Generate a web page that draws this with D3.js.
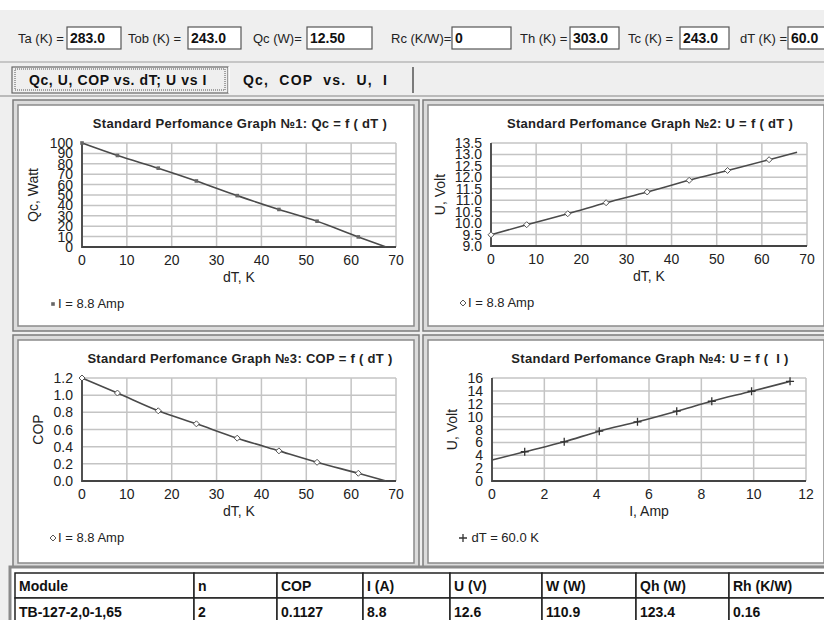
<!DOCTYPE html>
<html>
<head>
<meta charset="utf-8">
<script src="https://cdn.jsdelivr.net/npm/d3@7"></script>
<style>
body { margin:0; background:#fff; }
svg { display:block; font-family:"Liberation Sans", Arial, sans-serif; }
</style>
</head>
<body>
<svg id="chart" width="824" height="620"></svg>
<script>
// values
var dT = [0, 7.9, 17.0, 25.5, 34.6, 43.9, 52.4, 61.6, 67.8];
var qc = [100, 88, 75.8, 63.5, 49.4, 36.1, 24.8, 9.7, 0];
var uVsDT = [9.49, 9.93, 10.41, 10.89, 11.36, 11.87, 12.30, 12.77, 13.10];
var cop = [1.2, 1.025, 0.818, 0.666, 0.499, 0.351, 0.218, 0.090, 0];
var amps = [0, 1.25, 2.76, 4.1, 5.56, 7.06, 8.4, 9.92, 11.39];
var uVsI = [3.25, 4.54, 6.09, 7.74, 9.19, 10.84, 12.39, 13.94, 15.48];

var dTTicks = [0, 10, 20, 30, 40, 50, 60, 70];
var ampTicks = [0, 2, 4, 6, 8, 10, 12];
var qcTicks = [0, 10, 20, 30, 40, 50, 60, 70, 80, 90, 100];
var voltTicks = [9.0, 9.5, 10.0, 10.5, 11.0, 11.5, 12.0, 12.5, 13.0, 13.5];
var copTicks = [0.0, 0.2, 0.4, 0.6, 0.8, 1.0, 1.2];
var voltTicks2 = [0, 2, 4, 6, 8, 10, 12, 14, 16];

var paramLabels = ["Ta (K) =", "Tob (K) =", "Qc (W)=", "Rc (K/W)=", "Th (K) =", "Tc (K) =", "dT (K) ="];
var paramValues = ["283.0", "243.0", "12.50", "0", "303.0", "243.0", "60.0"];
var tabNames = ["Qc, U, COP vs. dT; U vs I", "Qc,  COP  vs.  U,  I"];
var tableHead = ["Module", "n", "COP", "I (A)", "U (V)", "W (W)", "Qh (W)", "Rh (K/W)"];
var tableRow = ["TB-127-2,0-1,65", "2", "0.1127", "8.8", "12.6", "110.9", "123.4", "0.16"];

var svg = d3.select("#chart");

// window background
svg.append("rect").attr("width", 824).attr("height", 620).attr("fill", "#ffffff");
svg.append("rect").attr("y", 10).attr("width", 824).attr("height", 610).attr("fill", "#efefef");

// parameter row
var labX = [18, 128, 253, 391, 520, 628, 740];
var boxX = [67, 188, 307, 452, 570, 680, 788];
var boxW = [54, 53, 65, 59, 49, 49, 40];
paramLabels.forEach(function(t, i) {
    svg.append("text").attr("x", labX[i]).attr("y", 43)
        .attr("font-size", 13).attr("fill", "#222").text(t);
    svg.append("rect").attr("x", boxX[i]).attr("y", 27).attr("width", boxW[i]).attr("height", 22)
        .attr("fill", "#fff").attr("stroke", "#555").attr("stroke-width", 1.2);
    svg.append("text").attr("x", boxX[i] + 3).attr("y", 43)
        .attr("font-size", 14).attr("font-weight", "bold").attr("fill", "#111").text(paramValues[i]);
});
svg.append("line").attr("x1", 0).attr("x2", 824).attr("y1", 62).attr("y2", 62)
    .attr("stroke", "#b8b8b8").attr("stroke-width", 1.5);

// tabs
svg.append("rect").attr("x", 12).attr("y", 67).attr("width", 216).attr("height", 26)
    .attr("fill", "#efefef").attr("stroke", "#666").attr("stroke-width", 1.2);
svg.append("rect").attr("x", 15).attr("y", 69).attr("width", 210).attr("height", 21)
    .attr("fill", "none").attr("stroke", "#555").attr("stroke-dasharray", "1,1");
svg.append("text").attr("x", 118).attr("y", 85).attr("text-anchor", "middle").attr("letter-spacing", 0.6)
    .attr("font-size", 14).attr("font-weight", "bold").attr("fill", "#111").text(tabNames[0]);
svg.append("line").attr("x1", 413).attr("x2", 413).attr("y1", 67).attr("y2", 93)
    .attr("stroke", "#555").attr("stroke-width", 1.5);
svg.append("line").attr("x1", 229).attr("x2", 229).attr("y1", 67).attr("y2", 93)
    .attr("stroke", "#fff").attr("stroke-width", 1.5);
svg.append("text").attr("x", 243).attr("y", 85).style("white-space", "pre").attr("letter-spacing", 1.2)
    .attr("font-size", 14).attr("font-weight", "bold").attr("fill", "#111").text(tabNames[1]);
svg.append("line").attr("x1", 0).attr("x2", 824).attr("y1", 96).attr("y2", 96)
    .attr("stroke", "#a8a8a8").attr("stroke-width", 1.5);

var charts = [
    {panel:[13,100,406,231], left:82, right:396, top:143, bottom:247, xs:dT, ys:qc, xDom:[0,70], yDom:[0,100],
     xTicks:dTTicks, yTicks:qcTicks, yFmt:d3.format("d"), title:"Standard Perfomance Graph №1: Qc = f ( dT )",
     xLabel:"dT, K", yLabel:"Qc, Watt", ylx:33, legend:"I = 8.8 Amp", marker:"dot", markEnd:false},
    {panel:[423,100,406,231], left:491, right:807, top:143, bottom:246, xs:dT, ys:uVsDT, xDom:[0,70], yDom:[9,13.5],
     xTicks:dTTicks, yTicks:voltTicks, yFmt:d3.format(".1f"), title:"Standard Perfomance Graph №2: U = f ( dT )",
     xLabel:"dT, K", yLabel:"U, Volt", ylx:440, legend:"I = 8.8 Amp", marker:"diamond", markEnd:false},
    {panel:[13,335,406,233], left:82, right:396, top:378, bottom:481, xs:dT, ys:cop, xDom:[0,70], yDom:[0,1.2],
     xTicks:dTTicks, yTicks:copTicks, yFmt:d3.format(".1f"), title:"Standard Perfomance Graph №3: COP = f ( dT )",
     xLabel:"dT, K", yLabel:"COP", ylx:38, legend:"I = 8.8 Amp", marker:"diamond", markEnd:false},
    {panel:[423,335,406,233], left:492, right:806, top:378, bottom:481, xs:amps, ys:uVsI, xDom:[0,12], yDom:[0,16],
     xTicks:ampTicks, yTicks:voltTicks2, yFmt:d3.format("d"), title:"Standard Perfomance Graph №4: U = f (  I )",
     xLabel:"I, Amp", yLabel:"U, Volt", ylx:452, legend:" dT = 60.0 K", marker:"plus", markEnd:true}
];

function drawMarker(g, type, x, y) {
    if (type == "dot") {
        g.append("rect").attr("x", x - 1.8).attr("y", y - 1.8).attr("width", 3.6).attr("height", 3.6).attr("fill", "#666");
    } else if (type == "diamond") {
        g.append("path").attr("d", "M" + x + "," + (y - 3) + "L" + (x + 3) + "," + y + "L" + x + "," + (y + 3) + "L" + (x - 3) + "," + y + "Z")
            .attr("fill", "#fff").attr("stroke", "#555").attr("stroke-width", 1);
    } else {
        g.append("path").attr("d", "M" + (x - 4) + "," + y + "H" + (x + 4) + "M" + x + "," + (y - 4) + "V" + (y + 4))
            .attr("stroke", "#333").attr("stroke-width", 1.3);
    }
}

charts.forEach(function(c) {
    var p = c.panel;
    var g = svg.append("g");
    // sunken frame
    g.append("rect").attr("x", p[0]).attr("y", p[1]).attr("width", p[2]).attr("height", p[3])
        .attr("fill", "#dcdcdc").attr("stroke", "#7c7c7c").attr("stroke-width", 1.5);
    g.append("rect").attr("x", p[0] + 5).attr("y", p[1] + 5).attr("width", p[2] - 10).attr("height", p[3] - 10)
        .attr("fill", "#fff").attr("stroke", "#8a8a8a").attr("stroke-width", 1.5);

    var x = d3.scaleLinear().domain(c.xDom).range([c.left, c.right]);
    var y = d3.scaleLinear().domain(c.yDom).range([c.bottom, c.top]);

    g.append("text").attr("x", (c.left + c.right) / 2 + 1).attr("y", c.top - 15).attr("text-anchor", "middle")
        .attr("font-size", 13).attr("letter-spacing", 0.3).attr("font-weight", "bold").attr("fill", "#222")
        .style("white-space", "pre").text(c.title);

    // grid
    g.selectAll(".vg").data(c.xTicks).enter().append("line")
        .attr("x1", function(d) { return x(d); }).attr("x2", function(d) { return x(d); })
        .attr("y1", c.top).attr("y2", c.bottom).attr("stroke", "#c4c4c4").attr("stroke-width", 1.5);
    g.selectAll(".hg").data(c.yTicks).enter().append("line")
        .attr("x1", c.left).attr("x2", c.right)
        .attr("y1", function(d) { return y(d); }).attr("y2", function(d) { return y(d); })
        .attr("stroke", "#c4c4c4").attr("stroke-width", 1.5);
    // axes
    g.append("path").attr("d", "M" + c.left + "," + c.top + "V" + c.bottom + "H" + c.right)
        .attr("fill", "none").attr("stroke", "#444").attr("stroke-width", 1.8);

    g.selectAll(".xt").data(c.xTicks).enter().append("text")
        .attr("x", function(d) { return x(d); }).attr("y", c.bottom + 18).attr("text-anchor", "middle")
        .attr("font-size", 14).attr("fill", "#222").text(function(d) { return d; });
    g.selectAll(".yt").data(c.yTicks).enter().append("text")
        .attr("x", c.left - 9).attr("y", function(d) { return y(d) + 5; }).attr("text-anchor", "end")
        .attr("font-size", 14).attr("fill", "#222").text(c.yFmt);

    g.append("text").attr("x", (c.left + c.right) / 2).attr("y", c.bottom + 35).attr("text-anchor", "middle")
        .attr("font-size", 14).attr("fill", "#222").text(c.xLabel);
    g.append("text").attr("transform", "translate(" + (c.ylx + 5) + "," + ((c.top + c.bottom) / 2) + ") rotate(-90)")
        .attr("text-anchor", "middle").attr("font-size", 14).attr("fill", "#222").text(c.yLabel);

    var pts = c.xs.map(function(v, i) { return [v, c.ys[i]]; });
    var line = d3.line().x(function(d) { return x(d[0]); }).y(function(d) { return y(d[1]); }).curve(d3.curveMonotoneX);
    g.append("path").attr("d", line(pts)).attr("fill", "none").attr("stroke", "#4a4a4a").attr("stroke-width", 1.6);
    pts.forEach(function(d, i) {
        if (c.markEnd ? i > 0 : i < pts.length - 1) drawMarker(g, c.marker, x(d[0]), y(d[1]));
    });

    var lx = p[0] + 40, ly = c.bottom + 61;
    drawMarker(g, c.marker, lx, ly - 4);
    g.append("text").attr("x", lx + 5).attr("y", ly).style("white-space", "pre")
        .attr("font-size", 13).attr("fill", "#222").text(c.legend);
});

// table
var colX = [15, 194, 277, 363, 450, 542, 636, 729, 830];
svg.append("rect").attr("x", 10).attr("y", 567).attr("width", 820).attr("height", 60)
    .attr("fill", "#fff").attr("stroke", "#8a8a8a").attr("stroke-width", 3);
[[tableHead, 573, 591], [tableRow, 598, 617]].forEach(function(r) {
    r[0].forEach(function(t, i) {
        svg.append("rect").attr("x", colX[i]).attr("y", r[1]).attr("width", colX[i + 1] - colX[i]).attr("height", 25)
            .attr("fill", "#fff").attr("stroke", "#222").attr("stroke-width", 1.5);
        svg.append("text").attr("x", colX[i] + 4).attr("y", r[2])
            .attr("font-size", 14).attr("font-weight", "bold").attr("fill", "#111").text(t);
    });
});
</script>
</body>
</html>
